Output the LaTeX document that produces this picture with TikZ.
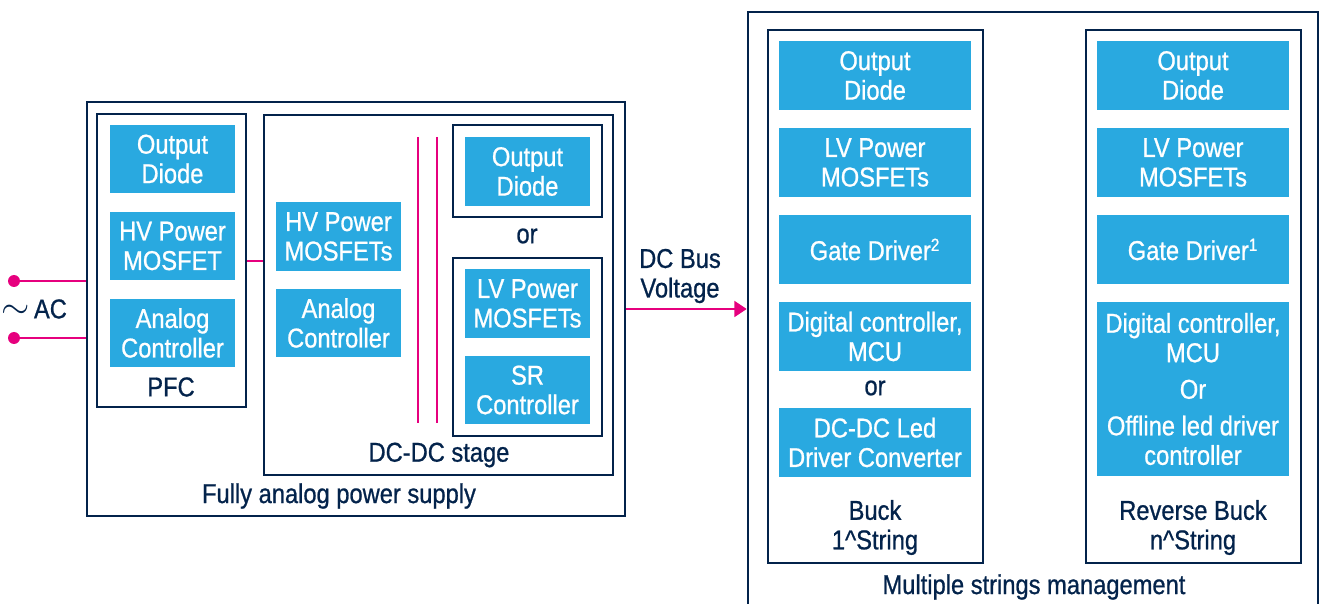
\documentclass[tikz,border=0pt]{standalone}
\usepackage{fontspec}
\setmainfont{Liberation Sans}[FakeStretch=0.87, FakeBold=0.8]
\usepackage{tikz}
\usepackage{xcolor}
\usetikzlibrary{arrows.meta,positioning,fit,calc}

\definecolor{stblue}{HTML}{29A9E0}
\definecolor{stnavy}{HTML}{03234B}
\definecolor{stpink}{HTML}{E6007E}

\newcommand{\sups}[1]{\textsuperscript{\fontsize{10}{10}\selectfont #1}}

\begin{document}
\begin{tikzpicture}[x=0.02cm, y=-0.02cm,
    font=\fontsize{15.5}{16.8}\selectfont,
    blk/.style={fill=stblue, text=white, align=center, inner sep=0pt,
        minimum width=2.5cm, minimum height=1.38cm},
    wblk/.style={blk, minimum width=3.84cm},
    frame/.style={draw=stnavy, line width=1.5pt, inner sep=0pt},
    lbl/.style={text=stnavy, align=center},
    wire/.style={draw=stpink, line width=1.4pt},
    dot/.style={circle, fill=stpink, inner sep=0pt, minimum size=0.24cm}]
        \useasboundingbox (0,0) rectangle (1322,604);

        % ============================================================
        % Fully analog power supply - Left
        % ============================================================
        \node[frame, fit={(87,102) (625,516)}] (psu) {};
        \node[lbl] (psulbl) at (339,496) {Fully analog power supply};

        % PFC
        \node[frame, fit={(97,114) (246,407)}] (pfc) {};
        \node[lbl] (pfclbl) at (171,387) {PFC};
        \node[blk] (pfcdiode) at (172.5,159) {Output\\Diode};
        \node[blk] (pfcfet) at (172.5,246) {HV Power\\MOSFET};
        \node[blk] (pfcctrl) at (172.5,333) {Analog\\Controller};

        % DC-DC stage
        \node[frame, fit={(264,115) (613,475)}] (dcdc) {};
        \node[lbl] (dcdclbl) at (439,455) {DC-DC stage};
        \node[blk] (hvfet) at (338.5,236.5) {HV Power\\MOSFETs};
        \node[blk] (dcctrl) at (338.5,323) {Analog\\Controller};
        \draw[wire] (418,137) -- (418,423);
        \draw[wire] (437,137) -- (437,423);

        \node[frame, fit={(453,125) (602,217)}] (diobox) {};
        \node[blk] (dcdiode) at (527.5,171.5) {Output\\Diode};
        \node[lbl] (dcor) at (527,236) {or};
        \node[frame, fit={(453,258) (602,436)}] (srbox) {};
        \node[blk] (lvfet) at (527.5,303.5) {LV Power\\MOSFETs};
        \node[blk] (srctrl) at (527.5,390) {SR\\Controller};

        % AC input
        \node[dot] (acp) at (14,281) {};
        \node[dot] (acn) at (14,338) {};
        \node[lbl] (ac) at (34,309) {{\fontsize{22}{22}\selectfont$\sim$}\,AC};
        \draw[wire] (acp) -- (acp -| psu.west);
        \draw[wire] (acn) -- (acn -| psu.west);

        % PFC to DC-DC
        \coordinate (lnk) at (0,261);
        \draw[wire] (pfc.east |- lnk) -- (dcdc.west |- lnk);

        % ============================================================
        % Multiple strings management - Right
        % ============================================================
        \node[frame, fit={(748,12) (1318,630)}] (msm) {};
        \node[lbl] (msmlbl) at (1034,587) {Multiple strings management};

        % Buck
        \node[frame, fit={(768,30) (983,563)}] (buck) {};
        \node[wblk] (bkdiode) at (875,75.5) {Output\\Diode};
        \node[wblk] (bkfet) at (875,162.5) {LV Power\\MOSFETs};
        \node[wblk] (bkgate) at (875,249.5) {Gate Driver\sups{2}};
        \node[wblk] (bkmcu) at (875,336.5) {Digital controller,\\MCU};
        \node[lbl] (bkor) at (875,388) {or};
        \node[wblk] (bkled) at (875,442.5) {DC-DC Led\\Driver Converter};
        \node[lbl] (bklbl) at (875,527.5) {Buck\\1\^{}String};

        % Reverse buck
        \node[frame, fit={(1086,30) (1301,563)}] (rbuck) {};
        \node[wblk] (rbdiode) at (1193,75.5) {Output\\Diode};
        \node[wblk] (rbfet) at (1193,162.5) {LV Power\\MOSFETs};
        \node[wblk] (rbgate) at (1193,249.5) {Gate Driver\sups{1}};
        \node[wblk, minimum height=3.48cm] (rbmcu) at (1193,389)
            {Digital controller,\\MCU\\[4pt]Or\\[4pt]Offline led driver\\controller};
        \node[lbl] (rblbl) at (1193,527.5) {Reverse Buck\\n\^{}String};

        % DC bus
        \node[lbl] (buslbl) at (680,276) {DC Bus\\Voltage};
        \coordinate (bus) at (0,309);
        \draw[wire, -{Triangle[length=7pt, width=9pt]}] (psu.east |- bus) -- (msm.west |- bus);

    \end{tikzpicture}
\end{document}
